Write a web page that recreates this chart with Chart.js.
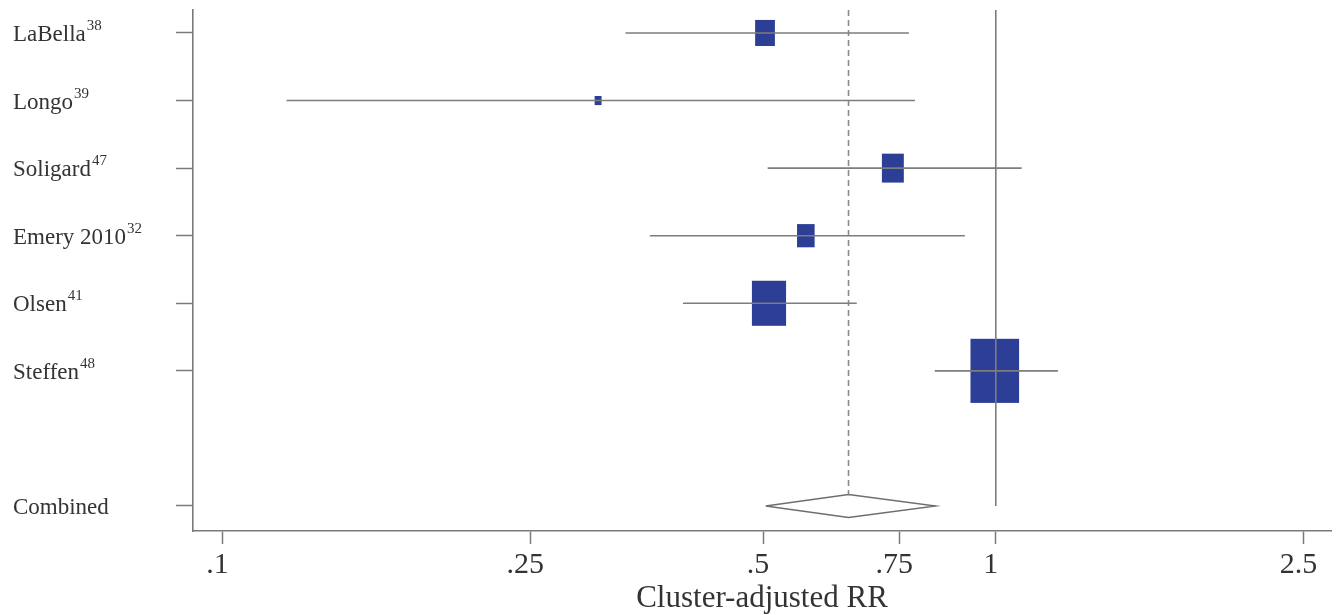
<!DOCTYPE html>
<html><head><meta charset="utf-8">
<script src="https://cdn.jsdelivr.net/npm/chart.js@4"></script>
<style>html,body{margin:0;padding:0;background:#fff}</style>
</head><body>
<canvas id="c" width="1338" height="615"></canvas>
<script>
// ---- data ----
const studies = ['LaBella','Longo','Soligard','Emery 2010','Olsen','Steffen'];
const refs = ['38','39','47','32','41','48'];
const rr = [0.503,0.306,0.736,0.568,0.509,0.997];
const lower = [0.332,0.121,0.507,0.357,0.394,0.834];
const upper = [0.772,0.786,1.080,0.912,0.661,1.203];
const weights = [8.2,1.0,10.1,6.5,24.5,49.6];
const rows = [1,2,3,4,5,6];
const combinedLabel = 'Combined';
const combinedRow = 8;
const combinedLower = 0.504, combinedRR = 0.645, combinedUpper = 0.836;
const nullValue = 1;
const xTicks = [0.1,0.25,0.5,0.75,1,2.5];
const xTickLabels = ['.1','.25','.5','.75','1','2.5'];
const xTitle = 'Cluster-adjusted RR';

// ---- style ----
const FONT = "'Liberation Serif','Times New Roman',serif";
const TEXT = '#333';
const AXIS = '#7a7a7a';
const LINE = '#7d7d7d';
const BOX = '#2c3e96';
const Y_MIN = 0.66, Y_MAX = 8.37;
const DIAMOND_HALF = 0.17;

const datasets = [];
studies.forEach((s,i)=>{
  datasets.push({data:[{x:lower[i],y:rows[i]},{x:upper[i],y:rows[i]}],showLine:true,borderColor:LINE,borderWidth:1.6,pointRadius:0});
});
datasets.push({data:[{x:nullValue,y:Y_MIN},{x:nullValue,y:combinedRow}],showLine:true,borderColor:LINE,borderWidth:1.6,pointRadius:0});
datasets.push({data:[{x:combinedRR,y:Y_MIN},{x:combinedRR,y:combinedRow-DIAMOND_HALF}],showLine:true,borderColor:'#8a8a8a',borderWidth:1.6,borderDash:[6,4],pointRadius:0});
datasets.push({data:[{x:combinedLower,y:combinedRow},{x:combinedRR,y:combinedRow-DIAMOND_HALF},{x:combinedUpper,y:combinedRow},{x:combinedRR,y:combinedRow+DIAMOND_HALF},{x:combinedLower,y:combinedRow}],showLine:true,borderColor:'#6e6e6e',borderWidth:1.4,fill:false,pointRadius:0,tension:0});

const boxPlugin = {
  id:'boxes',
  beforeDatasetsDraw(chart){
    const {ctx, scales:{x,y}} = chart;
    ctx.save();
    ctx.fillStyle = BOX;
    rr.forEach((v,i)=>{
      const px = x.getPixelForValue(v), py = y.getPixelForValue(rows[i]);
      const w = 6.9*Math.sqrt(weights[i]), h = 9.1*Math.sqrt(weights[i]);
      ctx.fillRect(px-w/2, py-h/2, w, h);
    });
    ctx.restore();
  },
  afterDraw(chart){
    const {ctx, scales:{y}} = chart;
    ctx.save();
    ctx.fillStyle = TEXT;
    ctx.textBaseline = 'alphabetic';
    ctx.textAlign = 'left';
    const labs = studies.concat([combinedLabel]);
    const sups = refs.concat(['']);
    const rws = rows.concat([combinedRow]);
    labs.forEach((l,i)=>{
      const py = y.getPixelForValue(rws[i]) + 8;
      ctx.font = '23px ' + FONT;
      ctx.fillText(l, 13, py);
      const w = ctx.measureText(l).width;
      if (sups[i]) {
        ctx.font = '15px ' + FONT;
        ctx.fillText(sups[i], 13 + w + 1, py - 11);
      }
    });
    ctx.restore();
  }
};

new Chart(document.getElementById('c'), {
  type:'scatter',
  data:{datasets},
  plugins:[boxPlugin],
  options:{
    responsive:false, animation:false, devicePixelRatio:1,
    layout:{padding:{top:10,right:7,left:0,bottom:0}},
    plugins:{legend:{display:false},tooltip:{enabled:false}},
    scales:{
      x:{
        type:'logarithmic', min:0.0916, max:2.713,
        afterBuildTicks(s){ s.ticks = xTicks.map(v=>({value:v})); },
        afterFit(s){ s.height = 84; },
        ticks:{ callback:(v)=>xTickLabels[xTicks.indexOf(v)], font:{family:FONT,size:30}, color:TEXT, padding:3, maxRotation:0, autoSkip:false, labelOffset:-5 },
        grid:{ drawOnChartArea:false, drawTicks:true, tickLength:13, tickColor:AXIS, tickWidth:1.5 },
        border:{ display:true, color:AXIS, width:1.6 },
        title:{ display:true, text:xTitle, font:{family:FONT,size:31}, color:TEXT, padding:{top:0,bottom:-2} }
      },
      y:{
        type:'linear', reverse:true, min:Y_MIN, max:Y_MAX,
        afterBuildTicks(s){ s.ticks = rows.concat([combinedRow]).map(v=>({value:v})); },
        afterFit(s){ s.width = 193; },
        ticks:{ display:false },
        grid:{ drawOnChartArea:false, drawTicks:true, tickLength:17, tickColor:AXIS, tickWidth:1.5 },
        border:{ display:true, color:AXIS, width:1.6 }
      }
    }
  }
});
</script>
</body></html>
